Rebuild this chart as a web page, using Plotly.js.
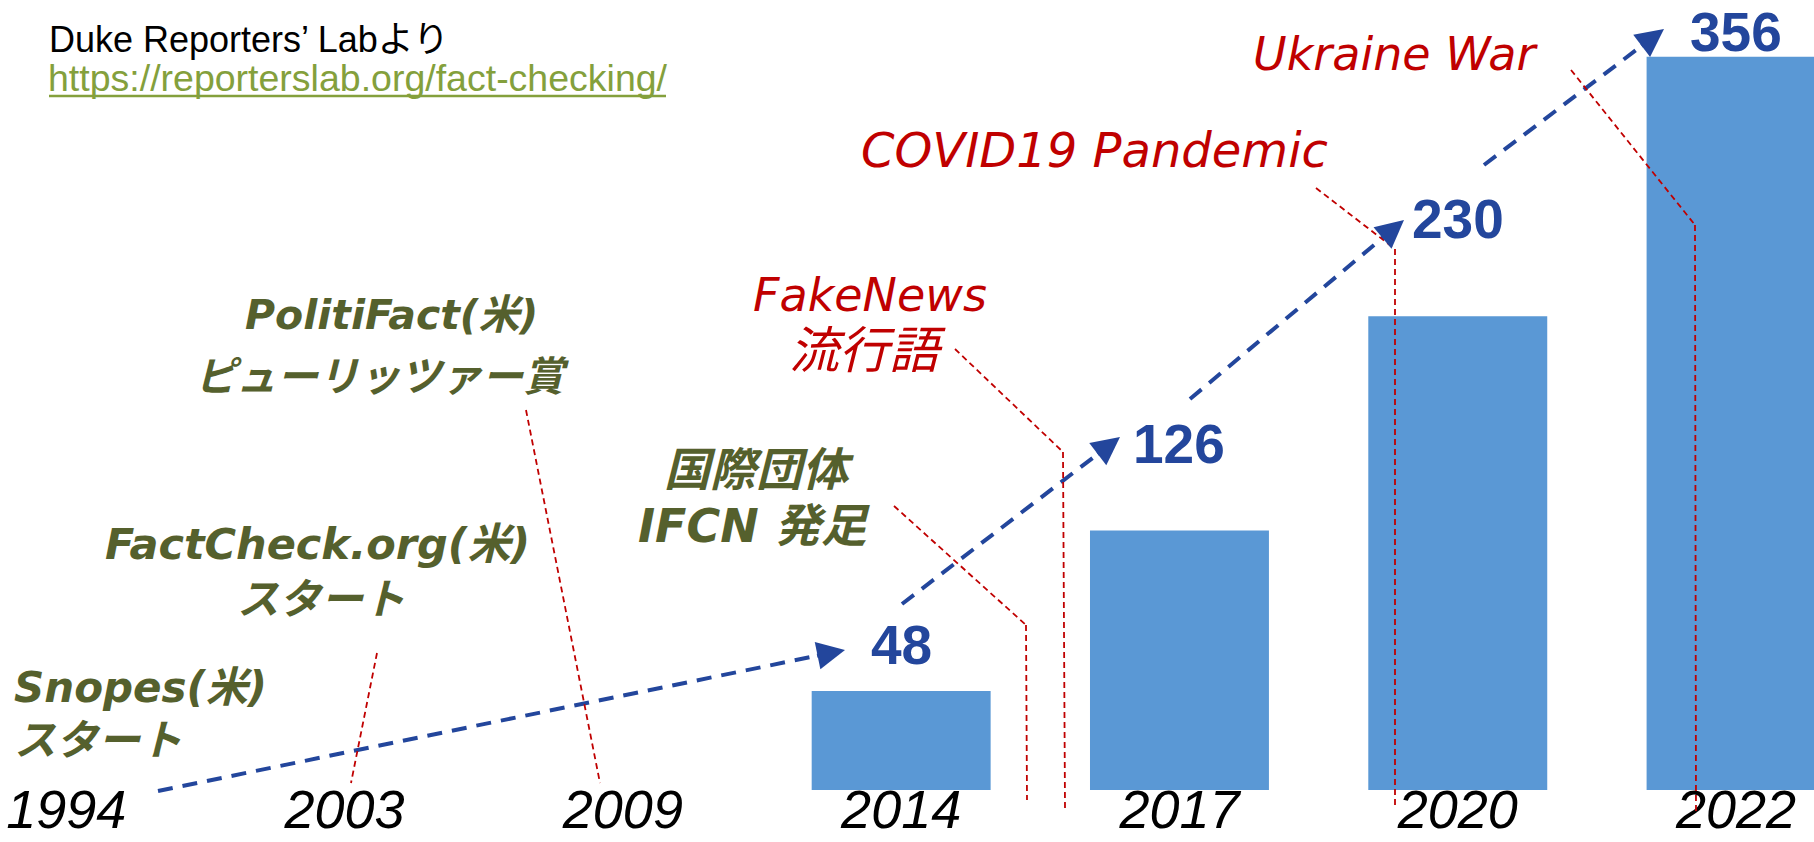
<!DOCTYPE html>
<html><head><meta charset="utf-8">
<script src="https://cdn.plot.ly/plotly-3.0.1.min.js"></script>
<style>html,body{margin:0;padding:0;background:#fff}#chart{width:1814px;height:842px}</style>
</head><body><div id="chart"></div>
<script>
// ---- data ----
const years = ['1994', '2003', '2009', '2014', '2017', '2020', '2022'];
const barYears = ['2014', '2017', '2020', '2022'];
const counts = [48, 126, 230, 356];
const sourceText = 'Duke Reporters’ Labより';
const sourceUrl = 'https://reporterslab.org/fact-checking/';
const milestoneLines = [
  ['Snopes(米)', 'スタート'],
  ['FactCheck.org(米)', 'スタート'],
  ['PolitiFact(米)', 'ピューリッツァー賞'],
  ['国際団体', 'IFCN 発足']
];
const contextLines = [
  ['FakeNews', '流行語'],
  ['COVID19 Pandemic'],
  ['Ukraine War']
];

// ---- styling / layout helpers ----
const W = 1814, H = 842;
const X = p => p / W, Y = p => 1 - p / H;
const olive = '#55602d', red = '#c00000', blue = '#23469c', barColor = '#5a98d5', green = '#84a03c';
const gothic = "'DejaVu Sans', 'Noto Sans CJK JP', sans-serif";
const plain = "'Liberation Sans', Arial, 'Noto Sans CJK JP', sans-serif";

function txt(text, x, y, font, xanchor) {
  return {text: text, x: X(x), y: Y(y), xref: 'paper', yref: 'paper',
          xanchor: xanchor || 'center', yanchor: 'middle', showarrow: false, font: font};
}
const oliveFont = s => ({family: gothic, size: s, color: olive, weight: 700, style: 'italic'});
const redFont = s => ({family: gothic, size: s, color: red, weight: 400, style: 'italic'});

const annotations = [
  txt(sourceText, 47, 39, {family: plain, size: 36, color: '#000'}, 'left'),
  txt(sourceUrl, 46, 78, {family: plain, size: 37.5, color: green}, 'left'),
  txt(milestoneLines[0][0], 12, 687, oliveFont(42), 'left'),
  txt(milestoneLines[0][1], 12, 740, oliveFont(42), 'left'),
  txt(milestoneLines[1][0], 317, 544, oliveFont(43)),
  txt(milestoneLines[1][1], 321, 599, oliveFont(42)),
  txt(milestoneLines[2][0], 391, 315, oliveFont(41)),
  txt(milestoneLines[2][1], 382, 377, oliveFont(41)),
  txt(milestoneLines[3][0], 759, 470, oliveFont(46)),
  txt(milestoneLines[3][1], 754, 526, oliveFont(46)),
  txt(contextLines[0][0], 870, 295, redFont(46)),
  txt(contextLines[0][1], 867, 351, redFont(50)),
  txt(contextLines[1][0], 1094, 150, redFont(48)),
  txt(contextLines[2][0], 1395, 54, redFont(46))
];

// value labels (x tied to the bar categories)
const labelY = [645, 444, 219, 32];
counts.forEach((v, i) => {
  annotations.push({text: String(v), x: years.indexOf(barYears[i]), xref: 'x', y: Y(labelY[i]), yref: 'paper',
    xanchor: 'center', yanchor: 'middle', showarrow: false,
    font: {family: plain, size: 55, color: blue, weight: 700}});
});

// blue dashed trend arrows (pixel geometry of the decoration)
const trendSegs = [
  [[158, 791], [845, 650]],
  [[902, 604], [1120, 437]],
  [[1190, 399], [1404, 220]],
  [[1484, 165], [1664, 29]]
];
const shapes = [];
trendSegs.forEach(([a, b]) => {
  const dx = b[0] - a[0], dy = b[1] - a[1], L = Math.hypot(dx, dy);
  const ux = dx / L, uy = dy / L;
  shapes.push({type: 'line', xref: 'paper', yref: 'paper', x0: X(a[0]), y0: Y(a[1]),
    x1: X(b[0] - ux * 14), y1: Y(b[1] - uy * 14),
    line: {color: blue, width: 4, dash: '15px,10px'}});
  annotations.push({text: '', x: X(b[0]), y: Y(b[1]), xref: 'paper', yref: 'paper',
    ax: -ux * 30, ay: -uy * 30, showarrow: true, arrowhead: 2, arrowsize: 1.4,
    arrowwidth: 4, arrowcolor: blue});
});

// red dashed leader lines
const leaders = [
  [[377, 653], [351, 783]],
  [[526, 410], [600, 783]],
  [[894, 506], [1026, 625], [1027, 800]],
  [[955, 349], [1063, 452], [1065, 808]],
  [[1316, 188], [1395, 249], [1395, 808]],
  [[1571, 70], [1695, 225], [1696, 815]]
];
leaders.forEach(pts => {
  for (let i = 0; i < pts.length - 1; i++) {
    shapes.push({type: 'line', xref: 'paper', yref: 'paper',
      x0: X(pts[i][0]), y0: Y(pts[i][1]), x1: X(pts[i + 1][0]), y1: Y(pts[i + 1][1]),
      line: {color: red, width: 1.8, dash: '6px,4px'}});
  }
});

// url underline
shapes.push({type: 'line', xref: 'paper', yref: 'paper', x0: X(49), x1: X(666), y0: Y(96), y1: Y(96),
  line: {color: green, width: 2.5}});

const k = 2.06;           // px per unit
const base = 790;         // pixel row of zero
const data = [{
  type: 'bar', x: barYears, y: counts, width: 0.643,
  marker: {color: barColor, line: {width: 0}}, hoverinfo: 'skip', showlegend: false
}];

const layout = {
  width: W, height: H, margin: {l: 0, r: 0, t: 0, b: 0},
  paper_bgcolor: '#fff', plot_bgcolor: '#fff', showlegend: false,
  xaxis: {type: 'category', categoryorder: 'array', categoryarray: years,
    range: [-0.238, 6.28], anchor: 'free', position: (H - 773) / H,
    showgrid: false, zeroline: false, showline: false, ticks: '',
    tickfont: {family: plain, size: 54, color: '#000', style: 'italic'}},
  yaxis: {range: [-(H - base) / k, base / k], visible: false, showgrid: false, zeroline: false},
  annotations: annotations, shapes: shapes
};

Plotly.newPlot('chart', data, layout, {displayModeBar: false, staticPlot: true});
</script></body></html>
